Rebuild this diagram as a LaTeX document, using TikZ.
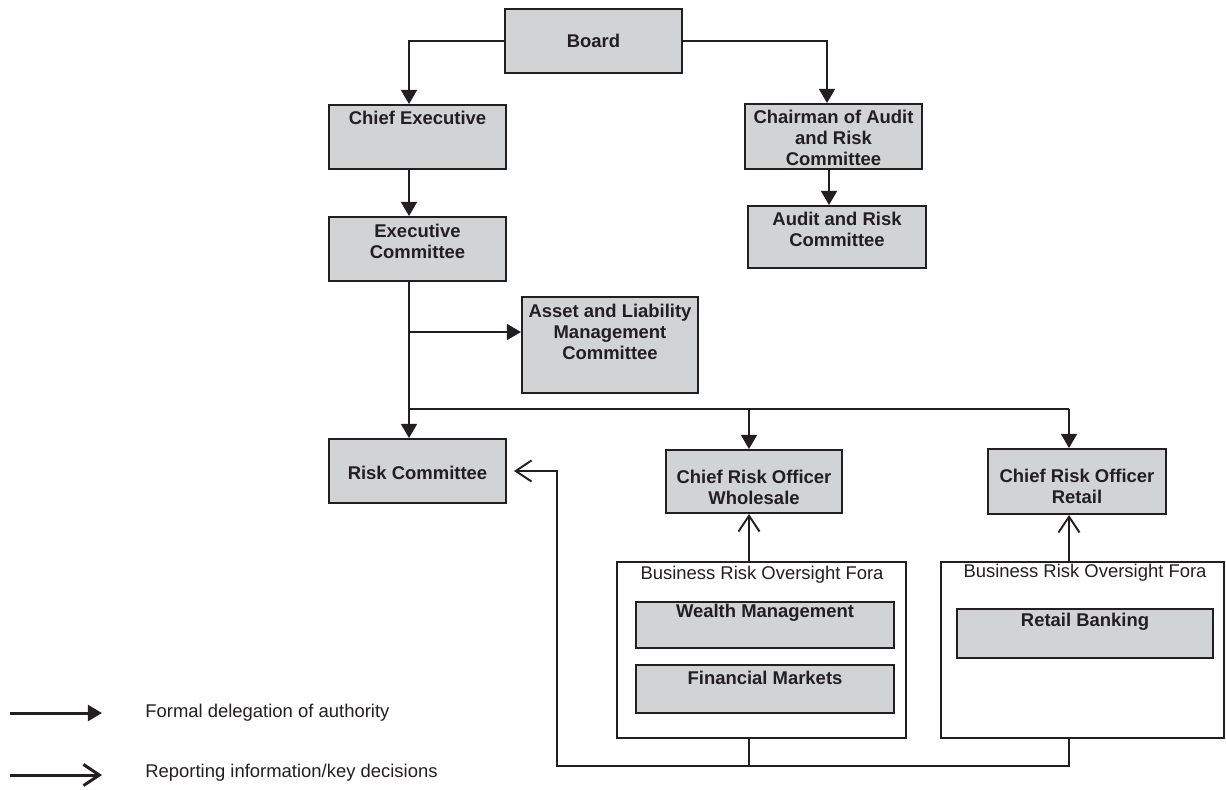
\documentclass[tikz,border=0pt]{standalone}
\usepackage{fontspec}
\setmainfont{Liberation Sans}
\usetikzlibrary{arrows.meta,fit}
\definecolor{boxfill}{HTML}{D1D3D4}
\definecolor{ink}{HTML}{231F20}
\begin{document}
\begin{tikzpicture}[x=0.02cm,y=-0.02cm,
 every node/.style={font=\fontsize{10.5}{12}\selectfont, text=ink},
 box/.style={draw=ink, fill=boxfill, line width=1.1pt, inner sep=0pt},
 fora/.style={draw=ink, fill=white, line width=1.1pt, inner sep=0pt},
 bt/.style={font=\fontsize{10.5}{12}\selectfont\bfseries, align=center, inner sep=0pt},
 rt/.style={inner sep=0pt},
 conn/.style={draw=ink, line width=1.1pt},
 formal/.style={conn, -{Triangle[length=8pt,width=9pt]}},
 report/.style={conn, -{Straight Barb[length=9pt,width=12pt]}},
 legend/.style={line width=1.7pt},
]
\path[use as bounding box, fill=white] (0,0) rectangle (1226,789);

% boxes
\node[box, fit={(505,9) (682,73)}] (board) {};
\node[box, fit={(329,105) (506,169)}] (ce) {};
\node[box, fit={(329,217) (506,281)}] (ec) {};
\node[box, fit={(745,104) (922,169)}] (cha) {};
\node[box, fit={(748,206) (926,268)}] (arc) {};
\node[box, fit={(522,297) (698,393)}] (almc) {};
\node[box, fit={(329,439) (506,503)}] (rc) {};
\node[box, fit={(666,450) (842,513)}] (crow) {};
\node[box, fit={(988,449) (1166,514)}] (cror) {};
\node[fora, fit={(617,562) (906,738)}] (fora1) {};
\node[fora, fit={(941,562) (1224,738)}] (fora2) {};
\node[box, fit={(636,602) (894,648)}] (wm) {};
\node[box, fit={(636,665) (894,713)}] (fm) {};
\node[box, fit={(957,609) (1213,658)}] (rb) {};

% texts
\node[bt] (board-t) at (593.5,41) {Board};
\node[bt] (ce-t) at (417.5,118) {Chief Executive};
\node[bt] (ec-t) at (417.5,241) {Executive\\Committee};
\node[bt] (cha-t) at (833.5,138) {Chairman of Audit\\and Risk\\Committee};
\node[bt] (arc-t) at (837,229.5) {Audit and Risk\\Committee};
\node[bt] (almc-t) at (610,332) {Asset and Liability\\Management\\Committee};
\node[bt] (rc-t) at (417.5,473) {Risk Committee};
\node[bt] (crow-t) at (754,487.5) {Chief Risk Officer\\Wholesale};
\node[bt] (cror-t) at (1077,486) {Chief Risk Officer\\Retail};
\node[rt] (fora1-t) at (762,575) {Business Risk Oversight Fora};
\node[rt] (fora2-t) at (1085,573) {Business Risk Oversight Fora};
\node[bt] (wm-t) at (765,613) {Wealth Management};
\node[bt] (fm-t) at (765,678) {Financial Markets};
\node[bt] (rb-t) at (1085,622) {Retail Banking};

% helper coordinates
\coordinate (sx) at (409,0);
\coordinate (cx) at (827,0);
\coordinate (ax) at (829,0);
\coordinate (wx) at (749,0);
\coordinate (rx) at (1069,0);
\coordinate (lx) at (557,0);
\coordinate (ay) at (0,332);
\coordinate (hy) at (0,409);
\coordinate (by) at (0,766);

% formal delegation
\draw[formal] (board.west) -| (sx |- ce.north);
\draw[formal] (board.east) -| (cx |- cha.north);
\draw[formal] (ax |- cha.south) -- (ax |- arc.north);
\draw[formal] (sx |- ce.south) -- (sx |- ec.north);
\draw[formal] (sx |- ec.south) -- (sx |- rc.north);
\draw[formal] (sx |- ay) -- (almc.west |- ay);
\draw[conn] (sx |- hy) -- (rx |- hy);
\draw[formal] (wx |- hy) -- (wx |- crow.north);
\draw[formal] (rx |- hy) -- (rx |- cror.north);

% reporting
\draw[report] (wx |- fora1.north) -- (wx |- crow.south);
\draw[report] (rx |- fora2.north) -- (rx |- cror.south);
\draw[conn] (wx |- fora1.south) -- (wx |- by);
\draw[report, shorten >=0.14cm] (rx |- fora2.south) -- (rx |- by) -- (lx |- by) -- (lx |- rc.east) -- (rc.east);

% legend
\coordinate (l1a) at (10,713);
\coordinate (l1b) at (102,713);
\coordinate (l2a) at (10,775);
\coordinate (l2b) at (102,775);
\draw[formal, legend] (l1a) -- (l1b);
\draw[report, legend] (l2a) -- (l2b);
\node[rt, anchor=west] (l1t) at (145,713) {Formal delegation of authority};
\node[rt, anchor=west] (l2t) at (145,773) {Reporting information/key decisions};
\end{tikzpicture}
\end{document}
